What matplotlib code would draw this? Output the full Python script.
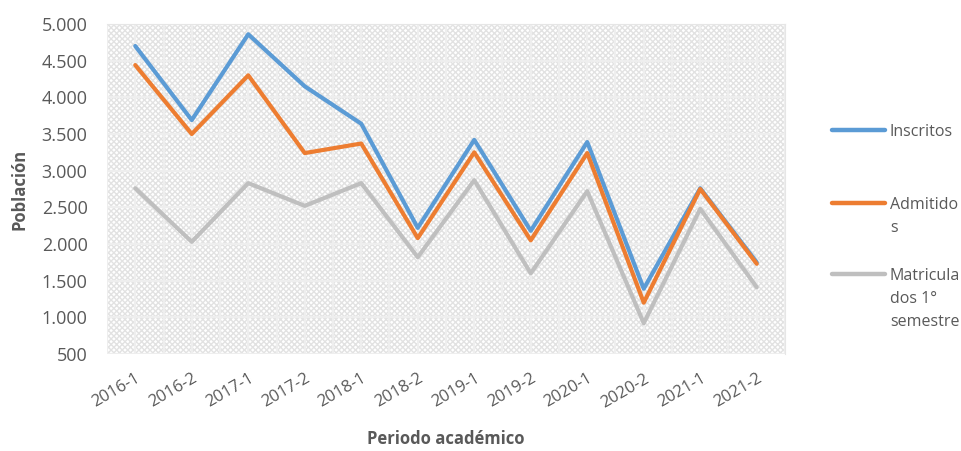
import numpy as np
import matplotlib.pyplot as plt
from matplotlib.patches import Rectangle
from matplotlib.lines import Line2D
from matplotlib.transforms import ScaledTranslation

periodos = ["2016-1", "2016-2", "2017-1", "2017-2", "2018-1", "2018-2",
            "2019-1", "2019-2", "2020-1", "2020-2", "2021-1", "2021-2"]
inscritos = [4700, 3690, 4860, 4150, 3640, 2220, 3420, 2180, 3390, 1390, 2760, 1750]
admitidos = [4440, 3500, 4300, 3240, 3370, 2080, 3250, 2050, 3240, 1200, 2750, 1730]
matriculados = [2760, 2030, 2830, 2520, 2830, 1820, 2870, 1600, 2720, 920, 2480, 1410]
y_ticks = [500, 1000, 1500, 2000, 2500, 3000, 3500, 4000, 4500, 5000]

series = [("Inscritos", inscritos, "#5b9bd5"),
          ("Admitido\ns", admitidos, "#ed7d31"),
          ("Matricula\ndos 1°\nsemestre", matriculados, "#bfbfbf")]

plt.rcParams['font.family'] = ['Open Sans', 'DejaVu Sans']
GREY = "#595959"

W, H = 962, 451
fig = plt.figure(figsize=(W / 100, H / 100), dpi=100)
ax = fig.add_axes([107 / W, 1 - 354 / H, 678 / W, 330 / H])

x = np.arange(len(periodos))
ax.set_xlim(-0.5, len(periodos) - 0.5)
ax.set_ylim(500, 5000)

# hatched plot area like the original
ax.add_patch(Rectangle((0, 0), 1, 1, transform=ax.transAxes, facecolor="white",
                       edgecolor="#e2e2e2", hatch="xxxxxx", lw=0, zorder=0))
for s in ax.spines.values():
    s.set_visible(False)
ax.spines['right'].set_visible(True)
ax.spines['right'].set_color("#e6e6e6")
ax.spines['top'].set_visible(True)
ax.spines['top'].set_color("#e6e6e6")

for yv in y_ticks:
    ax.axhline(yv, color="#eeeeee", lw=1.6, zorder=1)
for xv in np.arange(-0.5, len(periodos), 0.5):
    ax.axvline(xv, color="#eeeeee", lw=1.6, zorder=1)

zorders = [3, 4, 2]
for (name, vals, col), z in zip(series, zorders):
    ax.plot(x, vals, color=col, lw=3, zorder=z, solid_capstyle="round")

ax.set_yticks(y_ticks)
ax.set_yticklabels([f"{v:,}".replace(",", ".") for v in y_ticks], color=GREY, fontsize=13)
ax.set_xticks(x)
ax.set_xticklabels(periodos, rotation=30, ha="right", va="top", rotation_mode="anchor",
                   color=GREY, fontsize=12)
shift = ScaledTranslation(5 / 100, 0, fig.dpi_scale_trans)
for lbl in ax.get_xticklabels():
    lbl.set_transform(lbl.get_transform() + shift)
ax.tick_params(axis="y", length=0, pad=14)
ax.tick_params(axis="x", length=0, pad=12)

ax.set_ylabel("Población", color=GREY, fontsize=12, fontweight="bold")
ax.yaxis.set_label_coords(-0.116, 0.5)
ax.set_xlabel("Periodo académico", color=GREY, fontsize=12, fontweight="bold")
ax.xaxis.set_label_coords(0.5, -0.23)

# legend drawn at the right, as in the original
leg_y = [130, 203, 274]
for (name, vals, col), yp in zip(series, leg_y):
    fig.add_artist(Line2D([832 / W, 885 / W], [1 - yp / H, 1 - yp / H], color=col,
                          lw=3.2, solid_capstyle="round", transform=fig.transFigure))
    fig.text(890 / W, 1 - (yp - 6) / H, name, color=GREY, fontsize=11.5,
             ha="left", va="top", linespacing=1.6)

fig.savefig("out.png", dpi=100)
